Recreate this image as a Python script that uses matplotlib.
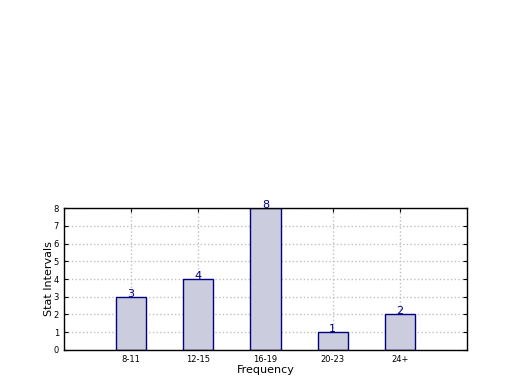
import matplotlib
matplotlib.use('Agg')
import matplotlib.pyplot as plt

categories = ['8-11', '12-15', '16-19', '20-23', '24+']
counts = [3, 4, 8, 1, 2]

fig = plt.figure(figsize=(5.2, 3.9), dpi=100)
ax = fig.add_axes([0.123, 0.1026, 0.775, 0.364])

pos = list(range(len(categories)))
bars = ax.bar(pos, counts, width=0.45, color='#ccccdf', edgecolor='#000080', linewidth=1.0, zorder=2)

# value labels on top of each bar
for b, v in zip(bars, counts):
    ax.text(b.get_x() + b.get_width() / 2, v, str(v), ha='center', va='baseline',
            color='#000080', fontsize=8, zorder=3)

ax.set_xlim(-1, 5)
ax.set_ylim(0, 8)
ax.set_xticks(pos)
ax.set_xticklabels(categories)
ax.set_yticks(range(0, 9))
ax.tick_params(axis='both', labelsize=6, direction='in', top=True, right=True, length=3)
ax.grid(True, linestyle=':', color='#c0c0c0', linewidth=1, zorder=0)
ax.set_axisbelow(True)
ax.set_xlabel('Frequency', fontsize=8, labelpad=1)
ax.set_ylabel('Stat Intervals', fontsize=8, labelpad=0)
for s in ax.spines.values():
    s.set_linewidth(1)

fig.savefig('out.png', dpi=100)
